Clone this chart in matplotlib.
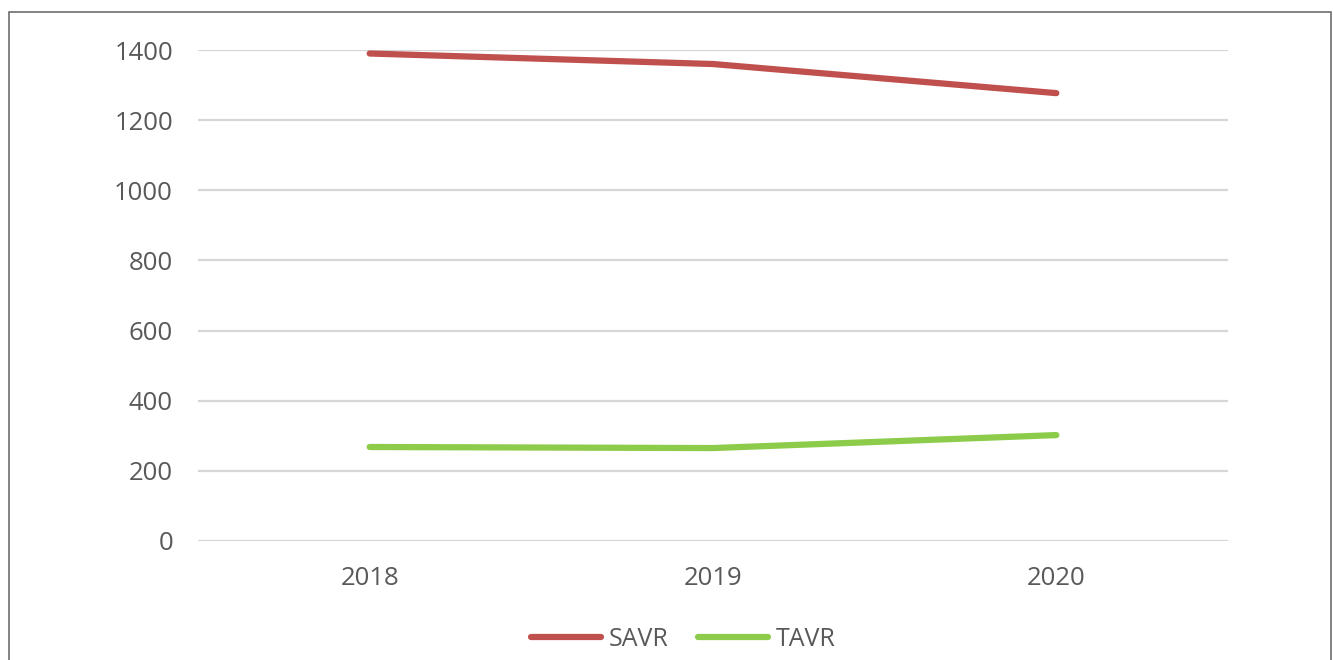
import matplotlib.pyplot as plt
from matplotlib.patches import Rectangle

years = ['2018', '2019', '2020']
savr = [1390, 1360, 1277]
tavr = [268, 265, 302]

plt.rcParams['font.family'] = ['Open Sans', 'DejaVu Sans']

fig = plt.figure(figsize=(13.33, 6.6), dpi=100)
ax = fig.add_axes([198 / 1333, 1 - 541 / 660, 1030 / 1333, 491 / 660])

x = range(len(years))
ax.plot(x, savr, color='#C0504D', lw=4.5, solid_capstyle='round', label='SAVR')
ax.plot(x, tavr, color='#8DCC4A', lw=4.5, solid_capstyle='round', label='TAVR')

ax.set_xlim(-0.5, 2.5)
ax.set_ylim(0, 1400)
ax.set_yticks(range(0, 1401, 200))
ax.set_xticks(list(x))
ax.set_xticklabels(years)
ax.grid(axis='y', color='#D6D6D6', lw=1.6)
ax.set_axisbelow(True)
for s in ax.spines.values():
    s.set_visible(False)
ax.tick_params(length=0, labelsize=18.5, labelcolor='#595959')
ax.tick_params(axis='y', pad=18)
ax.tick_params(axis='x', pad=18)

fig.legend(loc='center', bbox_to_anchor=(683 / 1333, 1 - 639 / 660), ncol=2,
           frameon=False, fontsize=18, labelcolor='#595959',
           handlelength=2.8, handletextpad=0.3, columnspacing=1.2)

fig.add_artist(Rectangle((9 / 1333, -0.01), 1322 / 1333, 1 - 12 / 660 + 0.01,
                         transform=fig.transFigure, fill=False,
                         edgecolor='#6E6E6E', lw=1.2))

fig.savefig('out.png', dpi=100, facecolor='white')
